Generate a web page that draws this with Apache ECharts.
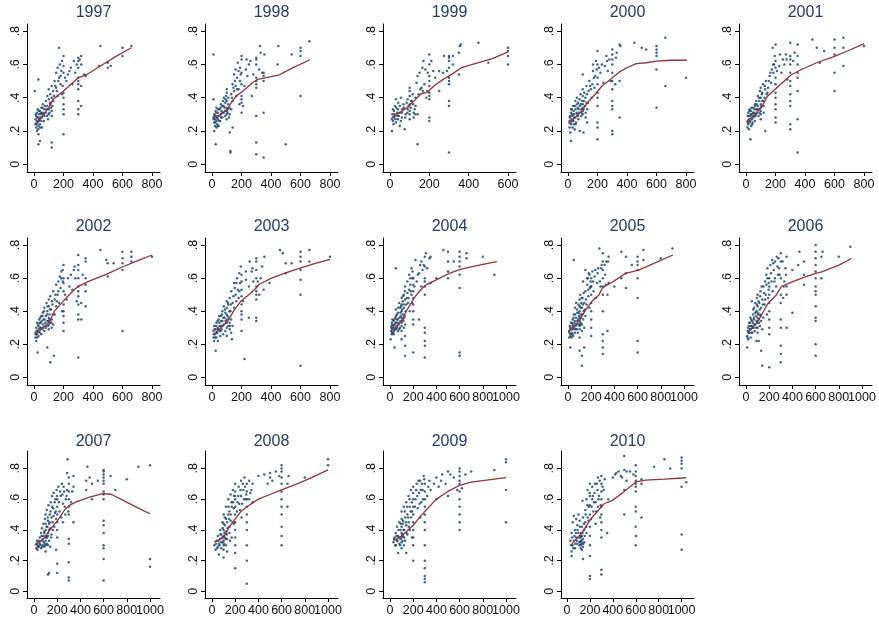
<!DOCTYPE html>
<html>
<head>
<meta charset="utf-8">
<script src="https://cdn.jsdelivr.net/npm/echarts@6/dist/echarts.min.js"></script>
<style>html,body{margin:0;padding:0;background:#fff}#chart{width:879px;height:622px}</style>
</head>
<body>
<div id="chart"></div>
<script>
// ---------- data ----------
const years = [1997,1998,1999,2000,2001,2002,2003,2004,2005,2006,2007,2008,2009,2010];
const xTickMax = [800,800,600,800,800,800,800,1000,1000,1000,1000,1000,1000,1000];
const yTicks = [0,0.2,0.4,0.6,0.8];
const yTickLabels = ['0','.2','.4','.6','.8'];
const xTicks600 = [0,200,400,600];
const xTicks800 = [0,200,400,600,800];
const xTicks1000 = [0,200,400,600,800,1000];

const s1997 = [[10,.24],[10,.27],[15,.29],[15,.22],[20,.26],[20,.31],[20,.20],[25,.25],[25,.33],[30,.28],[30,.23],[30,.18],[35,.30],[35,.26],[40,.32],[40,.24],[45,.28],[50,.34],[50,.30],[50,.26],[55,.22],[60,.31],[60,.36],[70,.33],[70,.29],[80,.38],[80,.31],[90,.41],[90,.35],[95,.27],[100,.30],[100,.33],[100,.39],[100,.45],[110,.36],[110,.42],[120,.29],[120,.32],[120,.40],[120,.47],[120,.10],[120,.13],[130,.38],[130,.44],[140,.50],[150,.46],[150,.55],[160,.41],[160,.58],[170,.70],[170,.52],[175,.60],[180,.48],[185,.56],[190,.42],[190,.62],[200,.30],[200,.33],[200,.36],[200,.40],[200,.43],[200,.55],[200,.59],[200,.65],[200,.18],[210,.52],[220,.50],[240,.56],[250,.58],[260,.48],[270,.62],[280,.55],[300,.30],[300,.33],[300,.38],[300,.45],[300,.48],[300,.50],[300,.52],[300,.58],[300,.62],[300,.64],[320,.35],[320,.47],[320,.60],[320,.65],[340,.54],[350,.53],[450,.71],[440,.59],[500,.58],[500,.61],[520,.59],[600,.65],[600,.70],[660,.71],[5,.44],[30,.51],[30,.12],[40,.14],
  [12,.30],[18,.24],[22,.28],[28,.21],[32,.32],[38,.27],[42,.22],[48,.31],[52,.28],[58,.34],[65,.30],[68,.26],[75,.35],[85,.33],[88,.29],[105,.31],[108,.37],[115,.34],[125,.35],[135,.41],[145,.47],[155,.44],[165,.50],[180,.53],[195,.47],[230,.54],[290,.60],[310,.63]];
const f1997 = [[10,.25],[50,.28],[100,.34],[130,.39],[200,.44],[300,.52],[350,.535],[450,.59],[550,.645],[660,.70]];

const s1998 = [[10,.66],[10,.39],[15,.20],[25,.12],[10,.28],[15,.25],[15,.30],[20,.27],[20,.23],[25,.29],[25,.32],[30,.26],[30,.22],[30,.34],[35,.28],[35,.24],[40,.31],[40,.27],[45,.23],[50,.29],[50,.33],[55,.26],[60,.30],[60,.36],[65,.32],[70,.28],[70,.35],[75,.38],[80,.31],[80,.40],[85,.34],[90,.37],[90,.29],[95,.41],[100,.27],[100,.30],[100,.32],[100,.34],[100,.38],[100,.43],[100,.45],[110,.36],[110,.40],[115,.28],[120,.30],[120,.19],[125,.07],[125,.08],[130,.33],[130,.42],[140,.22],[140,.48],[140,.38],[150,.44],[150,.54],[160,.47],[160,.57],[165,.41],[170,.52],[175,.61],[180,.45],[180,.56],[185,.36],[190,.50],[190,.58],[200,.31],[200,.37],[200,.39],[200,.41],[200,.48],[200,.55],[200,.63],[200,.65],[210,.35],[220,.47],[230,.57],[240,.53],[250,.60],[260,.62],[270,.41],[280,.54],[300,.06],[300,.13],[300,.29],[300,.46],[300,.48],[300,.50],[300,.52],[300,.60],[300,.63],[300,.64],[320,.57],[325,.71],[330,.67],[340,.55],[350,.04],[350,.31],[350,.50],[350,.53],[350,.55],[355,.66],[445,.60],[450,.71],[500,.12],[540,.66],[600,.41],[600,.65],[600,.68],[600,.70],[660,.74],
  [12,.27],[18,.29],[22,.25],[28,.31],[32,.28],[38,.23],[42,.33],[48,.26],[58,.34],[62,.28],[68,.31],[78,.35],[88,.32],[92,.39],[105,.31],[108,.33],[118,.34],[135,.40],[145,.46],[155,.50],[170,.45],[195,.54],[235,.63]];
const f1998 = [[5,.28],[60,.30],[105,.33],[130,.37],[165,.41],[210,.44],[275,.49],[310,.51],[450,.535],[560,.585],[665,.628]];

const s1999 = [[10,.20],[10,.27],[12,.30],[15,.26],[18,.24],[20,.28],[20,.32],[25,.35],[25,.29],[30,.39],[30,.25],[35,.31],[40,.27],[40,.33],[45,.29],[50,.35],[50,.23],[55,.26],[55,.40],[60,.31],[60,.28],[70,.34],[75,.21],[80,.30],[85,.37],[90,.33],[90,.39],[95,.35],[100,.27],[100,.30],[100,.32],[100,.36],[100,.41],[100,.44],[100,.46],[110,.38],[115,.42],[120,.28],[120,.31],[125,.33],[130,.35],[130,.40],[135,.49],[140,.12],[140,.53],[140,.30],[150,.55],[155,.45],[160,.46],[165,.58],[170,.62],[175,.48],[180,.57],[185,.40],[190,.44],[200,.26],[200,.28],[200,.39],[200,.41],[200,.43],[200,.47],[200,.50],[200,.53],[200,.60],[200,.66],[210,.62],[220,.56],[250,.44],[250,.56],[270,.55],[275,.65],[300,.07],[300,.35],[300,.38],[300,.48],[300,.50],[300,.52],[300,.58],[300,.62],[300,.64],[300,.65],[320,.60],[320,.65],[350,.54],[350,.67],[355,.71],[360,.72],[450,.73],[500,.61],[600,.60],[600,.65],[600,.68],[600,.70],
  [15,.33],[22,.30],[28,.27],[32,.34],[38,.29],[42,.37],[48,.31],[62,.33],[68,.36],[78,.28],[88,.31],[105,.34],[108,.38],[118,.36],[128,.30],[145,.42],[168,.44],[192,.55],[230,.52],[290,.56]];
const f1999 = [[8,.28],[50,.31],[93,.345],[130,.39],[160,.425],[186,.43],[228,.475],[270,.51],[313,.54],[363,.58],[450,.61],[520,.635],[600,.675]];

const s2000 = [[10,.22],[10,.26],[15,.29],[15,.19],[20,.24],[20,.14],[20,.31],[25,.27],[25,.33],[30,.22],[30,.29],[35,.26],[35,.35],[40,.30],[40,.24],[45,.21],[50,.28],[50,.33],[50,.38],[55,.25],[60,.30],[60,.40],[65,.34],[70,.27],[70,.37],[75,.31],[80,.20],[80,.35],[85,.42],[90,.29],[90,.33],[95,.38],[100,.30],[100,.32],[100,.34],[100,.36],[100,.41],[100,.45],[100,.54],[105,.19],[110,.43],[115,.35],[120,.28],[120,.31],[125,.37],[125,.47],[130,.25],[130,.33],[140,.44],[150,.47],[160,.40],[165,.48],[170,.56],[170,.60],[180,.46],[185,.53],[190,.62],[195,.57],[200,.15],[200,.22],[200,.25],[200,.35],[200,.40],[200,.43],[200,.48],[200,.52],[200,.60],[200,.68],[210,.58],[220,.55],[240,.49],[250,.59],[260,.65],[270,.56],[280,.63],[290,.50],[300,.18],[300,.20],[300,.33],[300,.35],[300,.38],[300,.45],[300,.50],[300,.55],[300,.60],[300,.63],[300,.66],[300,.69],[320,.48],[325,.64],[330,.67],[350,.28],[350,.50],[350,.72],[355,.71],[450,.73],[500,.70],[530,.69],[600,.34],[600,.57],[600,.65],[600,.67],[600,.69],[600,.71],[660,.47],[660,.76],[800,.52],
  [12,.28],[18,.25],[22,.33],[28,.30],[32,.26],[38,.32],[42,.28],[48,.35],[52,.24],[58,.31],[62,.36],[68,.29],[72,.33],[78,.39],[88,.36],[92,.31],[105,.33],[108,.38],[118,.40],[128,.42],[135,.37],[145,.50],[155,.45],[175,.52],[230,.60],[265,.62]];
const f2000 = [[2,.245],[50,.28],[98,.325],[132,.37],[189,.425],[230,.47],[280,.505],[349,.555],[400,.58],[463,.605],[531,.61],[600,.62],[700,.625],[805,.625]];

const s2001 = [[10,.22],[10,.26],[12,.29],[15,.24],[15,.31],[20,.27],[20,.21],[25,.33],[25,.25],[30,.15],[30,.29],[35,.23],[35,.32],[40,.27],[40,.30],[45,.25],[50,.28],[50,.34],[55,.31],[60,.26],[60,.36],[65,.29],[70,.33],[70,.38],[75,.31],[80,.35],[80,.41],[85,.29],[90,.33],[90,.38],[95,.44],[100,.27],[100,.30],[100,.32],[100,.34],[100,.36],[100,.40],[100,.46],[110,.38],[110,.43],[115,.48],[120,.31],[120,.35],[125,.40],[130,.20],[130,.45],[135,.50],[140,.42],[150,.46],[160,.53],[170,.49],[175,.57],[180,.70],[185,.55],[190,.60],[195,.65],[200,.25],[200,.28],[200,.33],[200,.36],[200,.40],[200,.43],[200,.48],[200,.52],[200,.58],[200,.62],[200,.72],[210,.56],[225,.59],[240,.55],[250,.63],[260,.60],[270,.66],[280,.51],[300,.21],[300,.24],[300,.35],[300,.38],[300,.42],[300,.47],[300,.50],[300,.55],[300,.60],[300,.63],[300,.65],[300,.73],[320,.62],[330,.67],[350,.07],[350,.27],[350,.44],[350,.52],[350,.55],[350,.60],[350,.65],[350,.72],[450,.75],[480,.70],[500,.61],[530,.68],[600,.44],[600,.55],[600,.66],[600,.70],[600,.75],[660,.59],[660,.70],[660,.76],[800,.71],
  [12,.25],[18,.29],[22,.32],[28,.26],[32,.30],[38,.34],[42,.24],[48,.31],[52,.29],[58,.33],[62,.35],[68,.30],[72,.36],[78,.33],[88,.40],[92,.31],[105,.35],[108,.42],[118,.38],[128,.47],[145,.43],[155,.50],[165,.55],[185,.60],[230,.66],[275,.63]];
const f2001 = [[7,.255],[60,.30],[108,.345],[142,.405],[209,.46],[260,.50],[303,.535],[366,.565],[479,.61],[591,.645],[700,.685],[800,.725]];

const s2002 = [[10,.24],[10,.27],[15,.30],[15,.22],[20,.26],[20,.33],[25,.15],[25,.28],[30,.25],[30,.31],[35,.35],[40,.27],[40,.30],[45,.33],[50,.26],[50,.37],[55,.29],[60,.32],[60,.39],[65,.35],[70,.28],[70,.42],[75,.33],[80,.37],[80,.30],[85,.45],[90,.18],[90,.34],[90,.40],[95,.31],[100,.29],[100,.32],[100,.34],[100,.36],[100,.43],[100,.47],[105,.38],[110,.09],[110,.33],[110,.49],[115,.41],[120,.30],[120,.35],[125,.44],[130,.32],[130,.52],[135,.13],[140,.38],[140,.47],[150,.43],[150,.56],[160,.50],[165,.58],[170,.45],[175,.61],[180,.54],[185,.64],[190,.40],[195,.58],[200,.28],[200,.33],[200,.37],[200,.40],[200,.44],[200,.52],[200,.57],[200,.60],[200,.68],[210,.50],[220,.47],[240,.55],[250,.62],[260,.53],[270,.65],[280,.60],[290,.46],[300,.12],[300,.35],[300,.38],[300,.44],[300,.49],[300,.52],[300,.55],[300,.60],[300,.65],[300,.68],[300,.74],[320,.35],[320,.45],[330,.62],[350,.43],[350,.52],[350,.56],[350,.60],[350,.70],[350,.72],[450,.77],[490,.71],[500,.61],[500,.69],[540,.69],[600,.28],[600,.65],[600,.69],[600,.72],[600,.76],[660,.70],[660,.73],[660,.76],[800,.73],
  [12,.26],[18,.28],[22,.24],[28,.32],[32,.29],[38,.33],[42,.36],[48,.30],[52,.34],[58,.37],[62,.30],[68,.40],[72,.35],[78,.31],[88,.38],[92,.43],[105,.35],[108,.41],[118,.33],[122,.46],[128,.38],[145,.50],[155,.46],[165,.52],[185,.60],[195,.65],[230,.60],[275,.67]];
const f2002 = [[11,.257],[60,.30],[106,.338],[140,.402],[200,.462],[250,.51],[297,.549],[365,.579],[489,.623],[602,.669],[700,.705],[800,.74]];

const s2003 = [[10,.24],[10,.28],[15,.22],[15,.31],[20,.26],[25,.16],[25,.29],[30,.24],[30,.33],[35,.27],[40,.30],[40,.22],[45,.35],[50,.28],[50,.33],[55,.25],[60,.31],[60,.37],[65,.29],[70,.34],[70,.40],[75,.26],[80,.32],[80,.43],[85,.36],[90,.28],[90,.39],[95,.33],[100,.25],[100,.30],[100,.33],[100,.35],[100,.38],[100,.42],[100,.46],[110,.31],[110,.44],[115,.36],[120,.29],[120,.33],[120,.48],[125,.40],[130,.27],[130,.35],[130,.52],[135,.23],[140,.31],[140,.45],[150,.42],[150,.57],[160,.50],[165,.46],[170,.60],[175,.53],[180,.48],[185,.63],[190,.57],[195,.67],[200,.28],[200,.35],[200,.38],[200,.40],[200,.44],[200,.49],[200,.53],[200,.58],[200,.62],[210,.46],[220,.11],[230,.59],[250,.36],[250,.55],[255,.70],[270,.64],[280,.58],[300,.34],[300,.36],[300,.47],[300,.50],[300,.52],[300,.55],[300,.60],[300,.65],[300,.70],[300,.72],[320,.50],[330,.60],[340,.67],[350,.53],[355,.73],[390,.57],[460,.77],[480,.75],[500,.63],[500,.69],[540,.69],[600,.07],[600,.50],[600,.59],[600,.65],[600,.70],[600,.73],[600,.76],[660,.70],[660,.77],[800,.73],
  [12,.26],[18,.29],[22,.24],[28,.31],[32,.27],[38,.34],[42,.29],[48,.37],[52,.31],[58,.28],[62,.34],[68,.38],[72,.31],[78,.36],[88,.41],[92,.34],[105,.37],[108,.45],[118,.40],[122,.31],[128,.44],[145,.49],[155,.54],[165,.57],[185,.52],[230,.64],[275,.66],[310,.58]];
const f2003 = [[11,.261],[60,.30],[106,.338],[147,.402],[197,.462],[250,.50],[298,.539],[321,.563],[400,.599],[490,.629],[592,.659],[700,.69],[800,.714]];

const s2004 = [[5,.23],[10,.28],[10,.30],[15,.26],[15,.33],[20,.29],[20,.35],[25,.27],[30,.31],[30,.34],[35,.28],[40,.18],[40,.32],[45,.36],[50,.66],[50,.29],[50,.41],[55,.33],[60,.30],[60,.38],[65,.35],[70,.28],[70,.42],[75,.32],[80,.36],[80,.45],[85,.30],[90,.39],[90,.34],[95,.43],[100,.23],[100,.28],[100,.31],[100,.33],[100,.36],[100,.40],[100,.44],[100,.48],[110,.38],[110,.46],[115,.34],[120,.30],[120,.42],[120,.50],[125,.37],[130,.13],[130,.19],[130,.25],[130,.32],[130,.47],[130,.55],[140,.44],[150,.51],[150,.58],[160,.48],[165,.62],[170,.40],[175,.56],[180,.52],[185,.66],[190,.45],[195,.60],[200,.15],[200,.32],[200,.35],[200,.40],[200,.44],[200,.48],[200,.52],[200,.56],[200,.60],[220,.71],[230,.58],[250,.35],[250,.63],[260,.68],[270,.55],[280,.65],[300,.12],[300,.19],[300,.22],[300,.27],[300,.30],[300,.50],[300,.55],[300,.58],[300,.60],[300,.67],[300,.73],[310,.75],[350,.57],[350,.73],[400,.60],[460,.77],[500,.60],[500,.64],[500,.70],[500,.76],[550,.70],[600,.13],[600,.15],[600,.54],[600,.62],[600,.67],[600,.70],[600,.73],[600,.76],[660,.72],[660,.75],[800,.73],[900,.62],
  [12,.31],[18,.27],[22,.32],[28,.30],[32,.26],[38,.35],[42,.29],[48,.33],[52,.37],[58,.31],[62,.35],[68,.39],[72,.33],[78,.29],[88,.42],[92,.37],[105,.41],[108,.35],[112,.49],[118,.44],[122,.36],[128,.52],[135,.40],[145,.48],[155,.45],[165,.53],[175,.60],[185,.50],[195,.64],[210,.55],[240,.62],[270,.70],[290,.68],[320,.66],[340,.72]];
const f2004 = [[9,.28],[60,.31],[109,.348],[138,.398],[210,.482],[260,.525],[310,.559],[425,.599],[511,.629],[612,.655],[770,.679],[920,.70]];

const s2005 = [[10,.24],[10,.28],[15,.31],[20,.18],[20,.26],[25,.29],[30,.24],[30,.33],[35,.27],[40,.31],[40,.35],[45,.25],[50,.71],[50,.29],[50,.38],[55,.33],[60,.27],[60,.42],[65,.31],[70,.36],[70,.45],[75,.29],[80,.34],[80,.39],[85,.27],[90,.32],[90,.44],[95,.37],[100,.16],[100,.24],[100,.29],[100,.31],[100,.34],[100,.36],[100,.40],[100,.43],[100,.47],[105,.50],[110,.33],[110,.38],[115,.45],[120,.07],[120,.13],[120,.28],[120,.32],[120,.42],[125,.48],[130,.35],[130,.58],[135,.40],[140,.18],[140,.30],[140,.45],[150,.37],[150,.52],[150,.65],[160,.44],[165,.56],[170,.60],[175,.49],[180,.63],[185,.42],[190,.54],[195,.58],[200,.25],[200,.30],[200,.35],[200,.40],[200,.45],[200,.50],[200,.55],[200,.60],[210,.64],[220,.52],[230,.61],[240,.48],[250,.57],[260,.66],[270,.78],[280,.55],[290,.68],[300,.14],[300,.18],[300,.22],[300,.26],[300,.40],[300,.50],[300,.55],[300,.60],[300,.65],[300,.70],[300,.75],[320,.62],[330,.70],[340,.28],[340,.50],[350,.57],[350,.73],[400,.55],[460,.60],[460,.76],[500,.54],[500,.63],[500,.73],[550,.68],[600,.15],[600,.22],[600,.48],[600,.60],[600,.65],[600,.68],[600,.70],[600,.73],[650,.71],[650,.77],[800,.72],[900,.78],
  [12,.27],[18,.30],[22,.25],[28,.33],[32,.29],[38,.26],[42,.32],[48,.36],[52,.30],[58,.34],[62,.38],[68,.29],[72,.32],[78,.41],[88,.35],[92,.39],[105,.32],[108,.42],[112,.36],[118,.48],[122,.38],[128,.44],[135,.51],[145,.41],[155,.47],[165,.60],[175,.53],[185,.62],[195,.55],[215,.58],[235,.65],[255,.63],[275,.58],[285,.66],[315,.68],[325,.56],[345,.70]];
const f2005 = [[3,.277],[50,.31],[95,.338],[152,.408],[209,.462],[266,.498],[295,.539],[338,.559],[381,.575],[496,.629],[610,.649],[760,.695],[905,.74]];

const s2006 = [[10,.18],[10,.25],[15,.28],[20,.23],[25,.31],[30,.27],[35,.33],[40,.29],[40,.24],[45,.35],[50,.31],[50,.46],[55,.27],[60,.33],[60,.38],[65,.30],[70,.35],[70,.42],[75,.28],[80,.32],[80,.45],[85,.37],[90,.22],[90,.34],[90,.40],[95,.48],[100,.27],[100,.30],[100,.33],[100,.36],[100,.39],[100,.43],[100,.50],[110,.22],[110,.35],[115,.45],[120,.31],[120,.38],[125,.52],[130,.16],[130,.34],[130,.42],[140,.07],[140,.29],[140,.47],[150,.36],[150,.55],[160,.44],[165,.58],[170,.50],[175,.62],[180,.38],[185,.66],[190,.48],[195,.57],[200,.06],[200,.26],[200,.30],[200,.35],[200,.40],[200,.45],[200,.50],[200,.55],[200,.60],[210,.68],[220,.58],[225,.71],[230,.52],[240,.65],[250,.60],[250,.70],[260,.55],[270,.67],[280,.72],[290,.62],[300,.09],[300,.14],[300,.19],[300,.30],[300,.35],[300,.45],[300,.50],[300,.60],[300,.70],[300,.75],[320,.48],[330,.58],[340,.66],[350,.30],[350,.50],[350,.55],[350,.73],[400,.39],[400,.65],[450,.68],[460,.76],[500,.56],[500,.62],[500,.70],[600,.13],[600,.20],[600,.34],[600,.36],[600,.43],[600,.50],[600,.52],[600,.55],[600,.60],[600,.64],[600,.68],[600,.72],[600,.76],[600,.80],[650,.60],[650,.73],[660,.76],[800,.73],[900,.79],
  [12,.24],[18,.30],[22,.27],[28,.33],[32,.29],[38,.36],[42,.31],[48,.27],[52,.34],[58,.30],[62,.41],[68,.36],[72,.32],[78,.39],[88,.30],[92,.44],[105,.38],[108,.46],[112,.33],[118,.41],[122,.49],[128,.37],[135,.55],[145,.44],[155,.51],[165,.47],[175,.56],[185,.60],[195,.53],[215,.63],[235,.69],[245,.58],[265,.73],[275,.62],[285,.66],[315,.70],[325,.55],[345,.62]];
const f2006 = [[20,.273],[91,.328],[134,.378],[190,.448],[261,.498],[304,.549],[403,.579],[517,.609],[602,.629],[659,.639],[801,.679],[909,.719]];

const s2007 = [[20,.28],[20,.31],[30,.30],[30,.27],[40,.33],[40,.29],[50,.31],[50,.35],[60,.28],[60,.38],[70,.33],[70,.41],[75,.30],[80,.36],[80,.44],[85,.32],[90,.29],[90,.39],[95,.47],[100,.26],[100,.30],[100,.33],[100,.36],[100,.40],[100,.44],[100,.50],[110,.35],[110,.53],[115,.42],[120,.11],[120,.30],[120,.38],[120,.46],[125,.56],[130,.12],[130,.33],[130,.44],[135,.50],[140,.29],[140,.41],[145,.58],[150,.37],[150,.48],[155,.62],[160,.45],[165,.54],[170,.64],[175,.42],[180,.51],[185,.60],[190,.27],[190,.47],[195,.66],[200,.12],[200,.18],[200,.35],[200,.40],[200,.45],[200,.50],[200,.55],[200,.60],[210,.68],[220,.52],[230,.62],[240,.70],[250,.45],[250,.57],[260,.65],[270,.50],[280,.62],[285,.77],[290,.86],[300,.07],[300,.09],[300,.19],[300,.31],[300,.34],[300,.50],[300,.55],[300,.60],[300,.65],[300,.70],[300,.74],[340,.45],[340,.68],[340,.75],[450,.66],[450,.72],[460,.81],[480,.74],[500,.60],[500,.70],[550,.72],[600,.07],[600,.21],[600,.28],[600,.30],[600,.38],[600,.43],[600,.46],[600,.60],[600,.63],[600,.65],[600,.70],[600,.72],[600,.74],[600,.76],[600,.78],[600,.79],[660,.75],[700,.66],[800,.73],[900,.81],[1000,.16],[1000,.21],[1000,.82],
  [25,.33],[35,.29],[45,.32],[55,.30],[65,.36],[72,.29],[78,.34],[88,.38],[92,.31],[105,.35],[108,.42],[112,.31],[118,.48],[122,.36],[128,.40],[135,.45],[142,.52],[148,.35],[155,.55],[162,.40],[168,.49],[178,.58],[188,.52],[198,.62],[215,.58],[225,.65],[235,.48],[245,.63],[255,.68],[265,.55],[275,.60],[285,.66],[295,.52],[320,.58],[330,.65]];
const f2007 = [[6,.30],[90,.349],[161,.423],[203,.461],[260,.526],[302,.558],[359,.58],[472,.612],[599,.638],[669,.63],[782,.587],[890,.545],[1000,.505]];

const s2008 = [[20,.30],[30,.27],[40,.33],[50,.29],[50,.36],[60,.24],[60,.31],[70,.34],[70,.40],[80,.28],[80,.37],[90,.32],[90,.45],[100,.22],[100,.27],[100,.30],[100,.33],[100,.36],[100,.40],[100,.44],[100,.50],[110,.35],[110,.48],[120,.30],[120,.39],[120,.55],[130,.26],[130,.34],[130,.45],[140,.50],[140,.60],[150,.38],[150,.42],[150,.52],[160,.46],[160,.63],[170,.55],[170,.35],[180,.58],[180,.66],[190,.44],[190,.62],[200,.15],[200,.25],[200,.30],[200,.35],[200,.40],[200,.45],[200,.50],[200,.55],[200,.60],[200,.65],[200,.70],[220,.58],[230,.68],[240,.53],[250,.62],[250,.72],[260,.57],[270,.66],[280,.74],[290,.60],[300,.05],[300,.20],[300,.30],[300,.40],[300,.45],[300,.50],[300,.55],[300,.60],[300,.65],[300,.70],[320,.72],[330,.64],[350,.58],[350,.70],[400,.75],[450,.76],[480,.70],[500,.74],[500,.77],[520,.72],[550,.78],[580,.75],[600,.30],[600,.36],[600,.42],[600,.50],[600,.55],[600,.60],[600,.65],[600,.70],[600,.74],[600,.78],[600,.80],[600,.82],[650,.55],[650,.70],[660,.75],[800,.74],[1000,.82],[1000,.86],
  [35,.31],[45,.28],[55,.33],[65,.30],[72,.37],[78,.32],[88,.35],[92,.41],[105,.31],[108,.38],[112,.43],[118,.34],[122,.47],[128,.37],[135,.41],[142,.55],[148,.47],[155,.33],[162,.50],[168,.58],[178,.45],[188,.54],[198,.62],[215,.52],[225,.62],[235,.57],[245,.66],[255,.48],[265,.70],[275,.60],[285,.68],[295,.63],[320,.60],[340,.66]];
const f2008 = [[20,.32],[100,.35],[150,.42],[200,.47],[250,.52],[300,.55],[400,.60],[500,.63],[600,.66],[700,.69],[800,.72],[900,.755],[1000,.79]];

const s2009 = [[30,.32],[40,.35],[50,.30],[50,.38],[60,.33],[60,.42],[70,.25],[70,.36],[80,.31],[80,.45],[90,.34],[90,.40],[100,.28],[100,.32],[100,.35],[100,.38],[100,.42],[100,.47],[100,.52],[110,.36],[110,.44],[120,.30],[120,.40],[120,.55],[130,.33],[130,.48],[140,.25],[140,.43],[140,.58],[150,.37],[150,.50],[160,.45],[160,.62],[170,.40],[170,.55],[180,.48],[180,.66],[190,.52],[190,.35],[200,.20],[200,.30],[200,.35],[200,.40],[200,.45],[200,.50],[200,.55],[200,.60],[200,.68],[220,.60],[230,.70],[240,.54],[250,.64],[260,.48],[260,.72],[270,.58],[280,.66],[290,.75],[300,.06],[300,.08],[300,.10],[300,.15],[300,.20],[300,.30],[300,.40],[300,.45],[300,.50],[300,.55],[300,.60],[300,.65],[300,.70],[320,.62],[340,.72],[350,.66],[400,.60],[400,.74],[420,.68],[450,.76],[480,.70],[500,.62],[500,.78],[550,.74],[580,.66],[600,.40],[600,.45],[600,.50],[600,.55],[600,.60],[600,.65],[600,.70],[600,.72],[600,.75],[600,.78],[600,.80],[620,.67],[650,.76],[700,.78],[900,.79],[1000,.45],[1000,.66],[1000,.84],[1000,.86],
  [35,.34],[45,.30],[55,.36],[65,.33],[72,.40],[78,.35],[88,.30],[92,.44],[105,.37],[108,.33],[112,.46],[118,.40],[122,.35],[128,.52],[135,.45],[142,.38],[148,.55],[155,.48],[162,.42],[168,.60],[178,.52],[188,.58],[198,.64],[215,.55],[225,.66],[235,.62],[245,.72],[255,.57],[265,.66],[275,.70],[285,.60],[295,.73],[330,.68],[380,.70],[440,.72],[520,.76]];
const f2009 = [[30,.33],[100,.36],[200,.43],[300,.52],[400,.60],[500,.65],[600,.69],[700,.71],[800,.72],[900,.73],[1000,.74]];

const s2010 = [[30,.33],[40,.23],[40,.26],[40,.38],[50,.30],[50,.45],[60,.33],[60,.49],[70,.28],[70,.40],[80,.35],[80,.47],[90,.31],[90,.43],[100,.38],[100,.50],[110,.32],[110,.46],[120,.28],[120,.30],[120,.33],[120,.35],[120,.38],[130,.27],[130,.31],[130,.36],[130,.42],[135,.59],[140,.21],[140,.29],[140,.34],[140,.48],[150,.32],[150,.40],[160,.45],[160,.53],[170,.38],[170,.60],[180,.48],[180,.66],[190,.55],[200,.08],[200,.10],[200,.23],[200,.30],[200,.36],[200,.42],[200,.50],[200,.56],[200,.62],[200,.70],[210,.47],[220,.60],[220,.68],[230,.52],[240,.64],[250,.44],[250,.58],[260,.70],[270,.55],[270,.74],[280,.62],[290,.48],[300,.11],[300,.14],[300,.35],[300,.40],[300,.45],[300,.50],[300,.55],[300,.60],[300,.65],[300,.70],[300,.75],[320,.66],[350,.38],[360,.60],[400,.74],[420,.76],[450,.78],[480,.74],[500,.50],[500,.66],[500,.79],[500,.88],[520,.72],[550,.78],[580,.76],[600,.30],[600,.36],[600,.42],[600,.52],[600,.55],[600,.65],[600,.68],[600,.70],[600,.72],[600,.75],[600,.78],[600,.82],[650,.48],[650,.70],[650,.73],[760,.81],[850,.86],[900,.80],[1000,.27],[1000,.37],[1000,.68],[1000,.80],[1000,.83],[1000,.85],[1000,.87],[1040,.71],
  [35,.30],[45,.35],[55,.28],[65,.36],[72,.31],[78,.38],[88,.33],[92,.40],[105,.35],[108,.30],[112,.42],[118,.32],[122,.36],[128,.33],[135,.38],[142,.31],[148,.44],[155,.36],[162,.50],[168,.42],[178,.56],[188,.46],[198,.64],[215,.55],[225,.62],[235,.58],[245,.70],[255,.52],[265,.66],[275,.60],[285,.72],[295,.56],[310,.68],[330,.73],[430,.77],[470,.75],[520,.78]];
const f2010 = [[41,.307],[134,.384],[207,.471],[324,.57],[397,.592],[500,.65],[601,.712],[688,.723],[850,.73],[1038,.739]];

const scatterSets = [s1997,s1998,s1999,s2000,s2001,s2002,s2003,s2004,s2005,s2006,s2007,s2008,s2009,s2010];
const fitSets = [f1997,f1998,f1999,f2000,f2001,f2002,f2003,f2004,f2005,f2006,f2007,f2008,f2009,f2010];

// ---------- layout ----------
const FONT = "'Liberation Sans', Arial, Helvetica, sans-serif";
const PLOT_W = 133;
const rowTop = [24, 238, 451];
const rowH = [148, 147, 147];
const rowY = [[-0.047, 0.843], [-0.047, 0.843], [-0.043, 0.913]];
const labelStyle = { fontSize: 12.5, color: '#111', fontFamily: FONT };

const grids = [], xAxes = [], extraX = [], yAxes = [], series = [], titles = [];
years.forEach((yr, i) => {
  const col = i % 5, row = Math.floor(i / 5);
  const left = 27 + 178 * col;
  grids.push({ left: left, top: rowTop[row], width: PLOT_W, height: rowH[row] });
  const m = xTickMax[i];
  let p0 = 7, pm = (m === 1000 ? 123 : 125);
  if (i === 13) { p0 = 6; pm = 120.6; }
  const k = (pm - p0) / m;
  const lo = -p0 / k, hi = lo + PLOT_W / k;
  const xt = m === 600 ? xTicks600 : (m === 800 ? xTicks800 : xTicks1000);
  // the last label of 1000-wide axes sits on an overlaid axis so both 800 and 1000 stay visible
  const mainLabels = m === 1000 ? xt.slice(0, -1) : xt;
  xAxes.push({
    type: 'value', gridIndex: i, min: lo, max: hi, position: 'bottom',
    axisLine: { show: true, onZero: false, lineStyle: { color: '#000', width: 1 } },
    axisTick: { show: true, length: 4, customValues: xt, lineStyle: { color: '#000' } },
    axisLabel: Object.assign({ customValues: mainLabels, margin: 6, hideOverlap: false,
      showMinLabel: true, showMaxLabel: true, formatter: v => String(Math.round(v)) }, labelStyle),
    splitLine: { show: false }
  });
  if (m === 1000) {
    extraX.push({
      type: 'value', gridIndex: i, min: lo, max: hi, position: 'bottom', offset: 0,
      axisLine: { show: false, onZero: false }, axisTick: { show: false },
      axisLabel: Object.assign({ customValues: [xt[xt.length - 1]], margin: 6,
        showMinLabel: true, showMaxLabel: true, formatter: v => String(Math.round(v)) }, labelStyle),
      splitLine: { show: false }
    });
  }
  yAxes.push({
    type: 'value', gridIndex: i, min: rowY[row][0], max: rowY[row][1],
    axisLine: { show: true, onZero: false, lineStyle: { color: '#000', width: 1 } },
    axisTick: { show: true, length: 4, customValues: yTicks, lineStyle: { color: '#000' } },
    axisLabel: Object.assign({
      customValues: yTicks, rotate: 90, margin: 5, showMinLabel: true, showMaxLabel: true,
      formatter: v => { const j = yTicks.findIndex(t => Math.abs(t - v) < 1e-6); return j >= 0 ? yTickLabels[j] : ''; }
    }, labelStyle),
    splitLine: { show: false }
  });
  series.push({
    type: 'scatter', xAxisIndex: i, yAxisIndex: i, data: scatterSets[i],
    symbol: 'circle', symbolSize: 2.5, itemStyle: { color: '#173f66' }, silent: true
  });
  series.push({
    type: 'line', xAxisIndex: i, yAxisIndex: i, data: fitSets[i],
    showSymbol: false, symbol: 'none', smooth: false, z: 5,
    lineStyle: { color: '#90353b', width: 1.3 }, silent: true
  });
  const cx = left + PLOT_W / 2;
  titles.push({
    text: String(yr), left: cx - 17.8, top: [5, 219, 434][row], padding: 0,
    textStyle: { fontSize: 16, fontWeight: 'normal', color: '#263b6c', fontFamily: FONT }
  });
});

const chart = echarts.init(document.getElementById('chart'), null, { renderer: 'canvas' });
chart.setOption({
  animation: false,
  backgroundColor: '#fff',
  title: titles,
  grid: grids,
  xAxis: xAxes.concat(extraX),
  yAxis: yAxes,
  series: series
});
</script>
</body>
</html>
